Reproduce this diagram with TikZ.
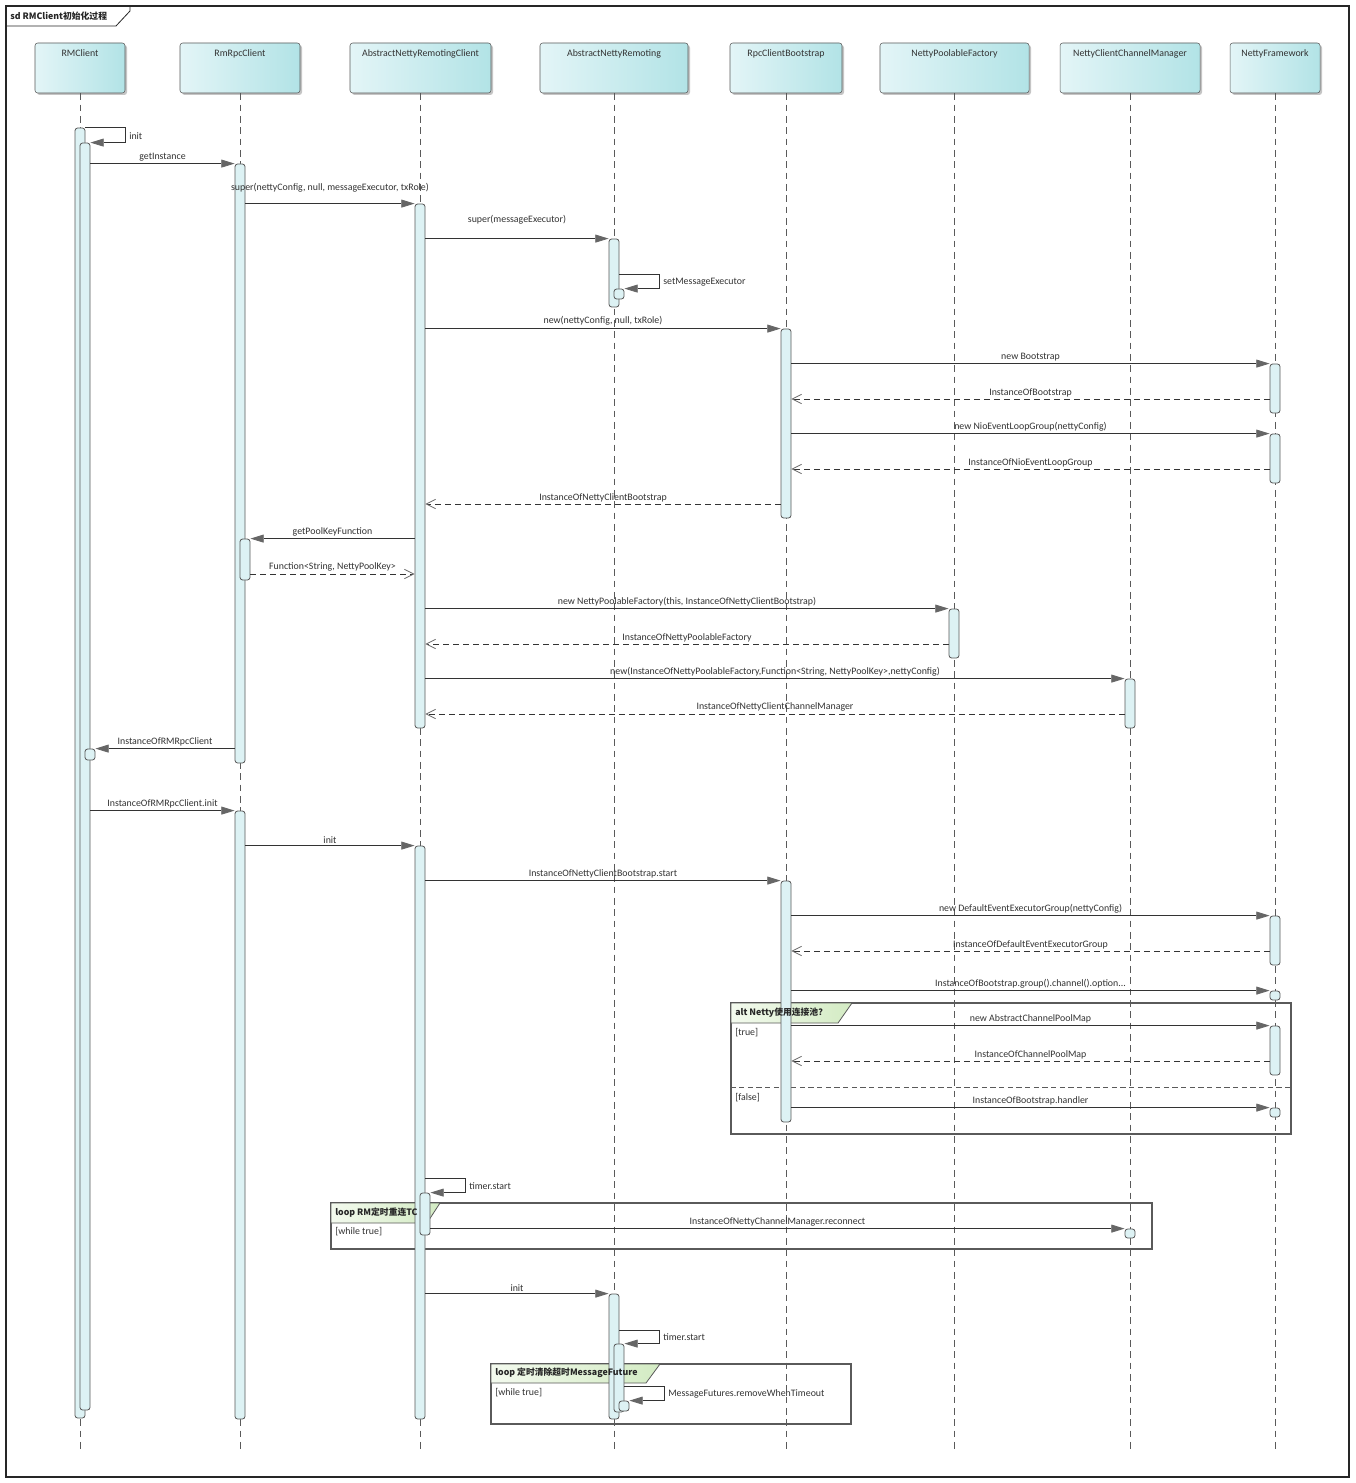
\documentclass[tikz,border=0pt]{standalone}
\usepackage{fontspec}
\setmainfont{Carlito}
\newfontfamily\cjk{Noto Sans CJK SC}
\usepackage{tikz}
\usetikzlibrary{arrows.meta,fit,shadows}

\definecolor{headL}{HTML}{E3F5F7}
\definecolor{headR}{HTML}{B2E3E6}
\definecolor{actfill}{HTML}{DDF2F4}
\definecolor{linegray}{HTML}{5A5A5A}
\definecolor{tipgray}{HTML}{666666}
\definecolor{txtgray}{HTML}{333333}
\definecolor{tabL}{HTML}{F3FAEE}
\definecolor{tabR}{HTML}{D3EBC3}

\tikzset{
  head/.style={draw=linegray, rounded corners=2pt, inner sep=0pt, left color=headL, right color=headR,
    drop shadow={shadow xshift=1.5pt, shadow yshift=-1.5pt, fill=black!45, opacity=.5}},
  headtxt/.style={anchor=north, inner sep=0pt, yshift=-5pt, font=\fontsize{7.4}{8}\selectfont, text=txtgray},
  lifeline/.style={draw=linegray, line width=0.6pt, dash pattern=on 5pt off 3.5pt},
  act/.style={draw=linegray, fill=actfill, rounded corners=2pt, inner sep=0pt, line width=0.6pt},
  call/.style={draw=black!80, line width=0.6pt, -{Triangle[length=10pt, width=6pt, color=tipgray]}},
  ret/.style={draw=black!80, line width=0.6pt, dash pattern=on 4.5pt off 3pt, -{Straight Barb[length=7pt, width=7pt, color=tipgray]}},
  msg/.style={inner sep=1.5pt, font=\fontsize{7.4}{8}\selectfont, text=txtgray},
  frag/.style={draw=linegray, line width=0.8pt, fill=white, inner sep=0pt,
    drop shadow={shadow xshift=1pt, shadow yshift=-1pt, fill=black!50, opacity=.6}},
  fragtab/.style={draw=linegray, line width=0.6pt, left color=tabL, right color=tabR},
  fragtxt/.style={anchor=west, inner sep=0pt, font=\cjk\bfseries\fontsize{6.6}{8}\selectfont, text=black!85},
  guard/.style={anchor=west, inner sep=0pt, font=\fontsize{7.4}{8}\selectfont, text=txtgray}
}

\begin{document}
\begin{tikzpicture}[x=0.75pt, y=-0.75pt]
\useasboundingbox (0,0) rectangle (1355,1483);
\fill[white] (0,0) rectangle (1355,1483);

% outer frame
\node[draw=black!85, line width=0.8pt, inner sep=0pt, fit={(6,6) (1349,1477)}] (sd) {};
\draw[draw=black!85, line width=0.6pt] (6,26) -- (116,26) -- (130,11) -- (130,6);
\node[fragtxt] (sdtitle) at (10,16) {sd RMClient初始化过程};

% combined fragments
\node[frag, fit={(731,1003) (1291,1134)}] (altfrm) {};
\node[frag, fit={(331,1203) (1152,1249)}] (loopA) {};
\node[frag, fit={(491,1364) (851,1424)}] (loopB) {};
\draw[linegray, line width=0.6pt, dash pattern=on 4pt off 2.5pt] (altfrm.west |- 0,1087) -- (altfrm.east |- 0,1087);

% lifelines
\node[head, fit={(35,43) (125,93)}, label={[headtxt]north:RMClient}] (rmc) {};
\node[head, fit={(180,43) (300,93)}, label={[headtxt]north:RmRpcClient}] (rrc) {};
\node[head, fit={(350,43) (491,93)}, label={[headtxt]north:AbstractNettyRemotingClient}] (anrc) {};
\node[head, fit={(540,43) (688,93)}, label={[headtxt]north:AbstractNettyRemoting}] (anr) {};
\node[head, fit={(730,43) (842,93)}, label={[headtxt]north:RpcClientBootstrap}] (rcb) {};
\node[head, fit={(880,43) (1029,93)}, label={[headtxt]north:NettyPoolableFactory}] (npf) {};
\node[head, fit={(1060,43) (1200,93)}, label={[headtxt]north:NettyClientChannelManager}] (nccm) {};
\node[head, fit={(1230,43) (1320,93)}, label={[headtxt]north:NettyFramework}] (nf) {};
\foreach \n in {rmc,rrc,anrc,anr,rcb,npf,nccm,nf}
  \draw[lifeline] (\n.south) -- (\n.south |- 0,1453);

% fragment tabs
\draw[fragtab] (731,1003) -- (852,1003) -- (838,1023) -- (731,1023) -- cycle;
\draw[fragtab] (331,1203) -- (440,1203) -- (427,1223) -- (331,1223) -- cycle;
\draw[fragtab] (491,1364) -- (660,1364) -- (646,1383) -- (491,1383) -- cycle;

% activations
\node[act, fit={(75,128) (85,1418)}] (rm1) {};
\node[act, fit={(80,143) (90,1410)}] (rm2) {};
\node[act, fit={(85,749) (95,760)}] (rm3) {};
\node[act, fit={(235,164) (245,763)}] (rr1) {};
\node[act, fit={(240,539) (250,580)}] (rr2) {};
\node[act, fit={(235,811) (245,1419)}] (rr3) {};
\node[act, fit={(415,204) (425,728)}] (anrc1) {};
\node[act, fit={(415,846) (425,1419)}] (anrc2) {};
\node[act, fit={(420,1193) (430,1235)}] (anrc3) {};
\node[act, fit={(609,239) (619,307)}] (anr1) {};
\node[act, fit={(614,289) (624,299)}] (anr2) {};
\node[act, fit={(609,1294) (619,1419)}] (anr3) {};
\node[act, fit={(614,1344) (624,1412)}] (anr4) {};
\node[act, fit={(619,1401) (629,1411)}] (anr5) {};
\node[act, fit={(781,329) (791,518)}] (rcb1) {};
\node[act, fit={(781,881) (791,1122)}] (rcb2) {};
\node[act, fit={(949,609) (959,658)}] (npf1) {};
\node[act, fit={(1125,679) (1135,728)}] (nccm1) {};
\node[act, fit={(1125,1229) (1135,1238)}] (nccm2) {};
\node[act, fit={(1270,364) (1280,413)}] (nf1) {};
\node[act, fit={(1270,434) (1280,483)}] (nf2) {};
\node[act, fit={(1270,916) (1280,965)}] (nf3) {};
\node[act, fit={(1270,991) (1280,1000)}] (nf4) {};
\node[act, fit={(1270,1026) (1280,1075)}] (nf5) {};
\node[act, fit={(1270,1108) (1280,1117)}] (nf6) {};

% messages
\draw[call] (rm1.north east) -- ++(40,0) |- (rm2.north east);
\node[msg, anchor=west] (initA) at (127,136) {init};
\draw[call] (rm2.east |- rr1.north) -- (rr1.north west) node[msg, midway, above] {getInstance};
\draw[call] (rr1.east |- anrc1.north) -- (anrc1.north west) node[msg, midway, above, yshift=7pt] {super(nettyConfig, null, messageExecutor, txRole)};
\draw[call] (anrc1.east |- anr1.north) -- (anr1.north west) node[msg, midway, above, yshift=9pt] {super(messageExecutor)};
\draw[call] (anr1.east |- 0,274) -- ++(40,0) |- (anr2.north east);
\node[msg, anchor=west] (setME) at (661,282) {setMessageExecutor};
\draw[call] (anrc1.east |- rcb1.north) -- (rcb1.north west) node[msg, midway, above, yshift=1pt] {new(nettyConfig, null, txRole)};
\draw[call] (rcb1.east |- nf1.north) -- (nf1.north west) node[msg, midway, above] {new Bootstrap};
\draw[ret] (nf1.west |- 0,399) -- (rcb1.east |- 0,399) node[msg, midway, above] {InstanceOfBootstrap};
\draw[call] (rcb1.east |- nf2.north) -- (nf2.north west) node[msg, midway, above] {new NioEventLoopGroup(nettyConfig)};
\draw[ret] (nf2.west |- 0,469) -- (rcb1.east |- 0,469) node[msg, midway, above] {InstanceOfNioEventLoopGroup};
\draw[ret] (rcb1.west |- 0,504) -- (anrc1.east |- 0,504) node[msg, midway, above] {InstanceOfNettyClientBootstrap};
\draw[call] (anrc1.west |- rr2.north) -- (rr2.north east) node[msg, midway, above] {getPoolKeyFunction};
\draw[ret] (rr2.east |- 0,574) -- (anrc1.west |- 0,574) node[msg, midway, above] {Function<String, NettyPoolKey>};
\draw[call] (anrc1.east |- npf1.north) -- (npf1.north west) node[msg, midway, above] {new NettyPoolableFactory(this, InstanceOfNettyClientBootstrap)};
\draw[ret] (npf1.west |- 0,644) -- (anrc1.east |- 0,644) node[msg, midway, above] {InstanceOfNettyPoolableFactory};
\draw[call] (anrc1.east |- nccm1.north) -- (nccm1.north west) node[msg, midway, above] {new(InstanceOfNettyPoolableFactory,Function<String, NettyPoolKey>,nettyConfig)};
\draw[ret] (nccm1.west |- 0,714) -- (anrc1.east |- 0,714) node[msg, midway, above] {InstanceOfNettyClientChannelManager};
\draw[call] (rr1.west |- rm3.north) -- (rm3.north east) node[msg, midway, above] {InstanceOfRMRpcClient};
\draw[call] (rm2.east |- rr3.north) -- (rr3.north west) node[msg, midway, above] {InstanceOfRMRpcClient.init};
\draw[call] (rr3.east |- anrc2.north) -- (anrc2.north west) node[msg, midway, above] {init};
\draw[call] (anrc2.east |- rcb2.north) -- (rcb2.north west) node[msg, midway, above] {InstanceOfNettyClientBootstrap.start};
\draw[call] (rcb2.east |- nf3.north) -- (nf3.north west) node[msg, midway, above] {new DefaultEventExecutorGroup(nettyConfig)};
\draw[ret] (nf3.west |- 0,951) -- (rcb2.east |- 0,951) node[msg, midway, above] {InstanceOfDefaultEventExecutorGroup};
\draw[call] (rcb2.east |- nf4.north) -- (nf4.north west) node[msg, midway, above] {InstanceOfBootstrap.group().channel().option...};
\draw[call] (rcb2.east |- nf5.north) -- (nf5.north west) node[msg, midway, above] {new AbstractChannelPoolMap};
\draw[ret] (nf5.west |- 0,1061) -- (rcb2.east |- 0,1061) node[msg, midway, above] {InstanceOfChannelPoolMap};
\draw[call] (rcb2.east |- nf6.north) -- (nf6.north west) node[msg, midway, above] {InstanceOfBootstrap.handler};
\draw[call] (anrc2.east |- 0,1178) -- ++(40,0) |- (anrc3.north east);
\node[msg, anchor=west] (timerA) at (467,1186) {timer.start};
\draw[call] (anrc3.east |- nccm2.north) -- (nccm2.north west) node[msg, midway, above] {InstanceOfNettyChannelManager.reconnect};
\draw[call] (anrc2.east |- anr3.north) -- (anr3.north west) node[msg, midway, above] {init};
\draw[call] (anr3.east |- 0,1330) -- ++(40,0) |- (anr4.north east);
\node[msg, anchor=west] (timerB) at (661,1337) {timer.start};
\draw[call] (anr4.east |- 0,1386) -- ++(40,0) |- (anr5.north east);
\node[msg, anchor=west] (rmTimeout) at (666,1394) {MessageFutures.removeWhenTimeout};

% fragment labels
\node[fragtxt] (altlbl) at (735,1013) {alt Netty使用连接池？};
\node[guard] (gTrue) at (735,1033) {[true]};
\node[guard] (gFalse) at (735,1098) {[false]};
\node[fragtxt] (loopAlbl) at (335,1213) {loop RM定时重连TC};
\node[guard] (gLoopA) at (335,1232) {[while true]};
\node[fragtxt] (loopBlbl) at (495,1373) {loop 定时清除超时MessageFuture};
\node[guard] (gLoopB) at (495,1393) {[while true]};
\end{tikzpicture}
\end{document}
